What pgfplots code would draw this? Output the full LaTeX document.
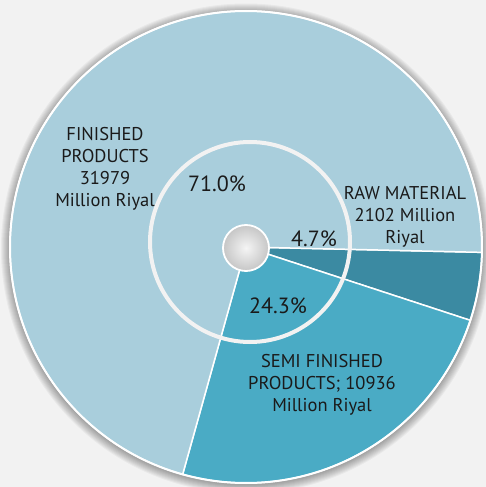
\documentclass[border=0pt]{standalone}
\usepackage{pgfplots}
\usepackage{pgfplotstable}
\pgfplotsset{compat=1.18}
\usepackage{fontspec}
\setmainfont{PT Sans}

\definecolor{bgc}{HTML}{F2F2F2}
\definecolor{finc}{HTML}{A9CEDC}
\definecolor{semic}{HTML}{4AABC5}
\definecolor{rawc}{HTML}{3B8AA2}
\definecolor{txt}{HTML}{1A1A1A}

\pgfplotstableread{
name value
raw 2102
semi 10936
finished 31979
}\pietab

% slice angles from the table (clockwise from just below east)
\pgfplotstablegetelem{0}{value}\of\pietab\edef\vraw{\pgfplotsretval}
\pgfplotstablegetelem{1}{value}\of\pietab\edef\vsemi{\pgfplotsretval}
\pgfplotstablegetelem{2}{value}\of\pietab\edef\vfin{\pgfplotsretval}
\edef\tot{\fpeval{\vraw+\vsemi+\vfin}}
\def\cx{246}\def\cy{240}\def\R{236}
\def\aS{-1.3}
\edef\aA{\fpeval{round(\aS-360*\vraw/\tot,3)}}
\edef\aB{\fpeval{round(\aA-360*\vsemi/\tot,3)}}
\edef\aE{\fpeval{\aS-360}}
\edef\xS{\fpeval{round(\cx+\R*cosd(\aS),3)}}\edef\yS{\fpeval{round(\cy+\R*sind(\aS),3)}}
\edef\xA{\fpeval{round(\cx+\R*cosd(\aA),3)}}\edef\yA{\fpeval{round(\cy+\R*sind(\aA),3)}}
\edef\xB{\fpeval{round(\cx+\R*cosd(\aB),3)}}\edef\yB{\fpeval{round(\cy+\R*sind(\aB),3)}}

\begin{document}
\begin{tikzpicture}
\begin{axis}[
    at={(0,0)}, anchor=origin,
    x=1bp, y=1bp,
    xmin=0, xmax=486, ymin=0, ymax=487,
    hide axis,
    clip mode=global,
]
\fill[bgc] (axis cs:0,0) rectangle (axis cs:486,487);
% soft shadow round the pie
\pgfplotsinvokeforeach{1,...,9}{
  \fill[black, opacity=0.04] (axis cs:\cx,\cy-1.5) circle[radius=\R+#1];
}
\fill[rawc, draw=white, line width=1.5bp] (axis cs:\cx,\cy) -- (axis cs:\xS,\yS)
  arc[start angle=\aS, end angle=\aA, radius=\R] -- cycle;
\fill[semic, draw=white, line width=1.5bp] (axis cs:\cx,\cy) -- (axis cs:\xA,\yA)
  arc[start angle=\aA, end angle=\aB, radius=\R] -- cycle;
\fill[finc, draw=white, line width=1.5bp] (axis cs:\cx,\cy) -- (axis cs:\xB,\yB)
  arc[start angle=\aB, end angle=\aE, radius=\R] -- cycle;
\draw[white, line width=2bp] (axis cs:\cx,\cy) circle[radius=\R];
% inner ring and hub
\draw[bgc, line width=4bp] (axis cs:250,245) circle[radius=100];
\shade[inner color=gray!8, outer color=gray!45] (axis cs:246,239) circle[radius=23];
\draw[white, line width=1.8bp] (axis cs:246,239) circle[radius=23];
% labels
\node[txt, align=center, font=\fontsize{18.5bp}{22bp}\selectfont] at (axis cs:105,318)
  {FINISHED\\PRODUCTS\\31979\\Million Riyal};
\node[txt, align=center, font=\fontsize{18.5bp}{22bp}\selectfont] at (axis cs:405,270)
  {RAW MATERIAL\\2102 Million\\Riyal};
\node[txt, align=center, font=\fontsize{18.5bp}{22bp}\selectfont] at (axis cs:322,102)
  {SEMI FINISHED\\PRODUCTS; 10936\\Million Riyal};
\node[txt, font=\fontsize{22bp}{26bp}\selectfont] at (axis cs:217,303) {71.0\%};
\node[txt, font=\fontsize{22bp}{26bp}\selectfont] at (axis cs:314,248) {4.7\%};
\node[txt, font=\fontsize{22bp}{26bp}\selectfont] at (axis cs:278,181) {24.3\%};
\end{axis}
\pgfresetboundingbox
\useasboundingbox (0,0) rectangle (486bp,487bp);
\end{tikzpicture}
\end{document}
